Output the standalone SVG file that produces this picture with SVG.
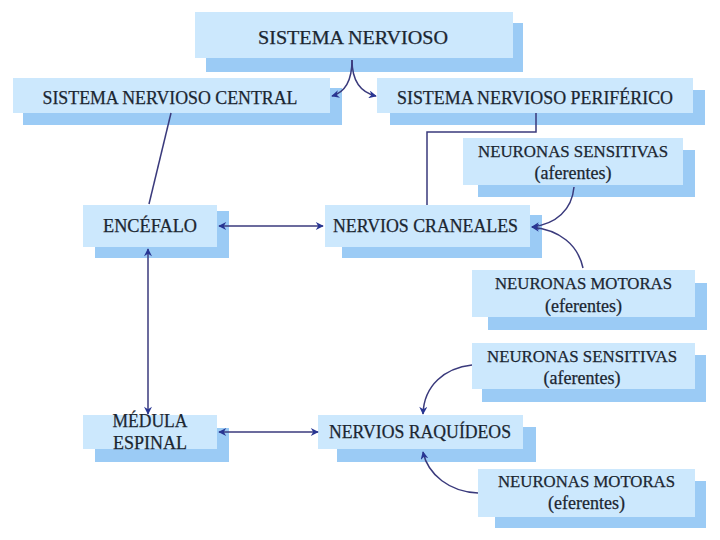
<svg xmlns="http://www.w3.org/2000/svg" width="720" height="540" viewBox="0 0 720 540">
<defs>
<style>
.front{fill:#CCE8FD;}
.shadow{fill:#9BCBF5;}
.t{font-family:"Liberation Serif","Times New Roman",serif;fill:#1B2631;stroke:#1B2631;stroke-width:0.25;text-anchor:middle;}
.big{font-size:18px;}
.small{font-size:16.5px;}
.paren{font-size:18px;}
.con{fill:none;stroke:#3A3A7C;stroke-width:1.5;}
</style>
<marker id="ah" viewBox="0 0 10 10" refX="9" refY="5" markerWidth="9" markerHeight="8" markerUnits="userSpaceOnUse" orient="auto-start-reverse">
<path d="M0,0 L10,5 L0,10 L3,5 Z" fill="#283593"/>
</marker>
</defs>
<rect width="720" height="540" fill="#FFFFFF"/>

<g id="sistema-nervioso">
<rect class="shadow" x="206" y="23" width="317" height="49"/>
<rect class="front" x="195" y="12" width="318" height="46"/>
<text class="t big" x="353" y="44" font-size="19" textLength="190" lengthAdjust="spacingAndGlyphs">SISTEMA NERVIOSO</text>
</g>

<g id="snc">
<rect class="shadow" x="23" y="88" width="319" height="37"/>
<rect class="front" x="13" y="78" width="317" height="35"/>
<text class="t big" x="170" y="104" textLength="255" lengthAdjust="spacingAndGlyphs">SISTEMA NERVIOSO CENTRAL</text>
</g>

<g id="snp">
<rect class="shadow" x="390" y="90" width="315" height="35"/>
<rect class="front" x="377" y="78" width="316" height="35"/>
<text class="t big" x="535" y="104" textLength="276" lengthAdjust="spacingAndGlyphs">SISTEMA NERVIOSO PERIFÉRICO</text>
</g>

<g id="encefalo">
<rect class="shadow" x="95" y="211" width="134" height="47"/>
<rect class="front" x="83" y="205" width="134" height="42"/>
<text class="t big" x="150" y="232" textLength="94" lengthAdjust="spacingAndGlyphs">ENCÉFALO</text>
</g>

<g id="nervios-craneales">
<rect class="shadow" x="342" y="215" width="200" height="43"/>
<rect class="front" x="325" y="205" width="205" height="42"/>
<text class="t big" x="425.5" y="232" textLength="185" lengthAdjust="spacingAndGlyphs">NERVIOS CRANEALES</text>
</g>

<g id="sensitivas-craneales">
<rect class="shadow" x="478" y="150" width="217" height="47"/>
<rect class="front" x="463" y="138" width="220" height="47"/>
<text class="t small" x="573" y="157" textLength="190" lengthAdjust="spacingAndGlyphs">NEURONAS SENSITIVAS</text>
<text class="t paren" x="573" y="179">(aferentes)</text>
</g>

<g id="motoras-craneales">
<rect class="shadow" x="488" y="283" width="219" height="47"/>
<rect class="front" x="472" y="270" width="223" height="47"/>
<text class="t small" x="583.5" y="289" textLength="177" lengthAdjust="spacingAndGlyphs">NEURONAS MOTORAS</text>
<text class="t paren" x="583.5" y="312">(eferentes)</text>
</g>

<g id="sensitivas-raquideos">
<rect class="shadow" x="482" y="355" width="224" height="47"/>
<rect class="front" x="472" y="343" width="223" height="46"/>
<text class="t small" x="582" y="362" textLength="190" lengthAdjust="spacingAndGlyphs">NEURONAS SENSITIVAS</text>
<text class="t paren" x="582" y="384">(aferentes)</text>
</g>

<g id="motoras-raquideos">
<rect class="shadow" x="495" y="481" width="211" height="47"/>
<rect class="front" x="478" y="469" width="217" height="48"/>
<text class="t small" x="586.5" y="487" textLength="177" lengthAdjust="spacingAndGlyphs">NEURONAS MOTORAS</text>
<text class="t paren" x="586.5" y="509">(eferentes)</text>
</g>

<g id="medula-espinal">
<rect class="shadow" x="95" y="428" width="134" height="34"/>
<rect class="front" x="83" y="415" width="134" height="34"/>
<text class="t big" x="150" y="427" textLength="75" lengthAdjust="spacingAndGlyphs">MÉDULA</text>
<text class="t big" x="150" y="449">ESPINAL</text>
</g>

<g id="nervios-raquideos">
<rect class="shadow" x="337" y="427" width="199" height="35"/>
<rect class="front" x="318" y="415" width="205" height="34"/>
<text class="t big" x="420" y="438" textLength="182" lengthAdjust="spacingAndGlyphs">NERVIOS RAQUÍDEOS</text>
</g>

<g id="connectors">
<path class="con" d="M352,60 C352,80 346,92 332,96" marker-end="url(#ah)"/>
<path class="con" d="M352,60 C352,80 359,92 376,96" marker-end="url(#ah)"/>
<path class="con" d="M171,113 L149,204"/>
<path class="con" d="M536,113 L536,132 L427,132 L427,205"/>
<path class="con" d="M219,226 L323,226" marker-start="url(#ah)" marker-end="url(#ah)"/>
<path class="con" d="M148,249 L148,414" marker-start="url(#ah)" marker-end="url(#ah)"/>
<path class="con" d="M219,432 L318,432" marker-start="url(#ah)" marker-end="url(#ah)"/>
<path class="con" d="M574,187 C572,210 556,224 532,227" marker-end="url(#ah)"/>
<path class="con" d="M583,268 C578,245 560,230 532,227" marker-end="url(#ah)"/>
<path class="con" d="M472,365 C445,368 424,385 423,414" marker-end="url(#ah)"/>
<path class="con" d="M478,493 C450,492 428,475 423,452" marker-end="url(#ah)"/>
</g>
</svg>
